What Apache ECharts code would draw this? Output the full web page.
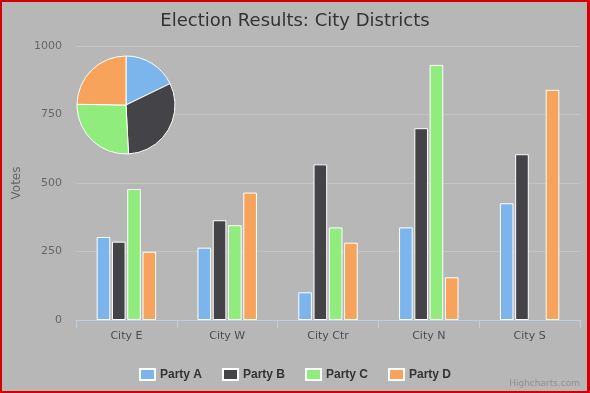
<!DOCTYPE html>
<html>
<head>
<meta charset="utf-8">
<script src="https://cdn.jsdelivr.net/npm/echarts@6/dist/echarts.min.js"></script>
<style>
html,body{margin:0;padding:0;}
#wrap{width:590px;height:393px;box-sizing:border-box;border:2px solid #d40000;border-right-width:3px;background:#b7b7b7;position:relative;}
#chart{position:absolute;left:-2px;top:-2px;width:590px;height:393px;}
</style>
</head>
<body>
<div id="wrap"><div id="chart"></div></div>
<script>
var categories = ['City E', 'City W', 'City Ctr', 'City N', 'City S'];
var partyA = [303, 264, 101, 338, 426];
var partyB = [286, 364, 568, 700, 605];
var partyC = [478, 346, 338, 931, null];
var partyD = [249, 465, 282, 156, 840];
var pieTotals = [1432, 2523, 2093, 1992];
var seriesNames = ['Party A', 'Party B', 'Party C', 'Party D'];
var yTicks = [0, 250, 500, 750, 1000];
var colors = ['#7cb5ec', '#434348', '#90ed7d', '#f7a35c'];

var FONT = '"DejaVu Sans", Verdana, Arial, sans-serif';
var chart = echarts.init(document.getElementById('chart'), null, {renderer: 'canvas'});
var barData = [partyA, partyB, partyC, partyD];
var series = barData.map(function (d, i) {
  return {
    name: seriesNames[i],
    type: 'bar',
    data: d.map(function (v) { return v === null ? '-' : v; }),
    barGap: '12%',
    barCategoryGap: '41%',
    itemStyle: {color: colors[i], borderColor: '#ffffff', borderWidth: 1},
    z: 2
  };
});
series.push({
  type: 'pie',
  name: 'Total',
  center: [126, 105],
  radius: 49,
  startAngle: 90,
  clockwise: true,
  label: {show: false},
  labelLine: {show: false},
  silent: true,
  z: 5,
  itemStyle: {borderColor: '#ffffff', borderWidth: 1},
  data: pieTotals.map(function (v, i) {
    return {name: seriesNames[i], value: v, itemStyle: {color: colors[i]}};
  })
});

chart.setOption({
  animation: false,
  backgroundColor: 'transparent',
  textStyle: {fontFamily: FONT},
  title: {
    text: 'Election Results: City Districts',
    left: 'center',
    top: 7,
    textStyle: {fontFamily: FONT, fontSize: 18, fontWeight: 'normal', color: '#333333'}
  },
  legend: {
    data: seriesNames,
    bottom: 7,
    left: 'center',
    itemWidth: 15,
    itemHeight: 11,
    itemGap: 20,
    icon: 'rect',
    textStyle: {fontFamily: '"Liberation Sans", Arial, sans-serif', fontSize: 12, fontWeight: 'bold', color: '#333333'}
  },
  grid: {left: 76, right: 10, top: 46, bottom: 73, containLabel: false},
  xAxis: {
    type: 'category',
    data: categories,
    axisLine: {lineStyle: {color: '#C0D0E0', width: 1}},
    axisTick: {show: true, length: 8, lineStyle: {color: '#C0D0E0'}},
    axisLabel: {color: '#4d4d4d', fontSize: 11, margin: 11, fontFamily: FONT},
    splitLine: {show: false}
  },
  yAxis: {
    type: 'value',
    min: yTicks[0],
    max: yTicks[yTicks.length - 1],
    interval: 250,
    name: 'Votes',
    nameLocation: 'middle',
    nameGap: 45,
    nameRotate: 90,
    nameTextStyle: {color: '#666666', fontSize: 12, fontFamily: FONT},
    axisLine: {show: false},
    axisTick: {show: false},
    axisLabel: {color: '#666666', fontSize: 11, margin: 14, fontFamily: FONT,
      formatter: function (v) { return String(v); }},
    splitLine: {lineStyle: {color: '#c4c4c4', width: 1}}
  },
  graphic: [{
    type: 'text',
    right: 10,
    bottom: 5,
    style: {text: 'Highcharts.com', fill: '#909090', font: '9px ' + FONT}
  }],
  series: series
});
</script>
</body>
</html>
